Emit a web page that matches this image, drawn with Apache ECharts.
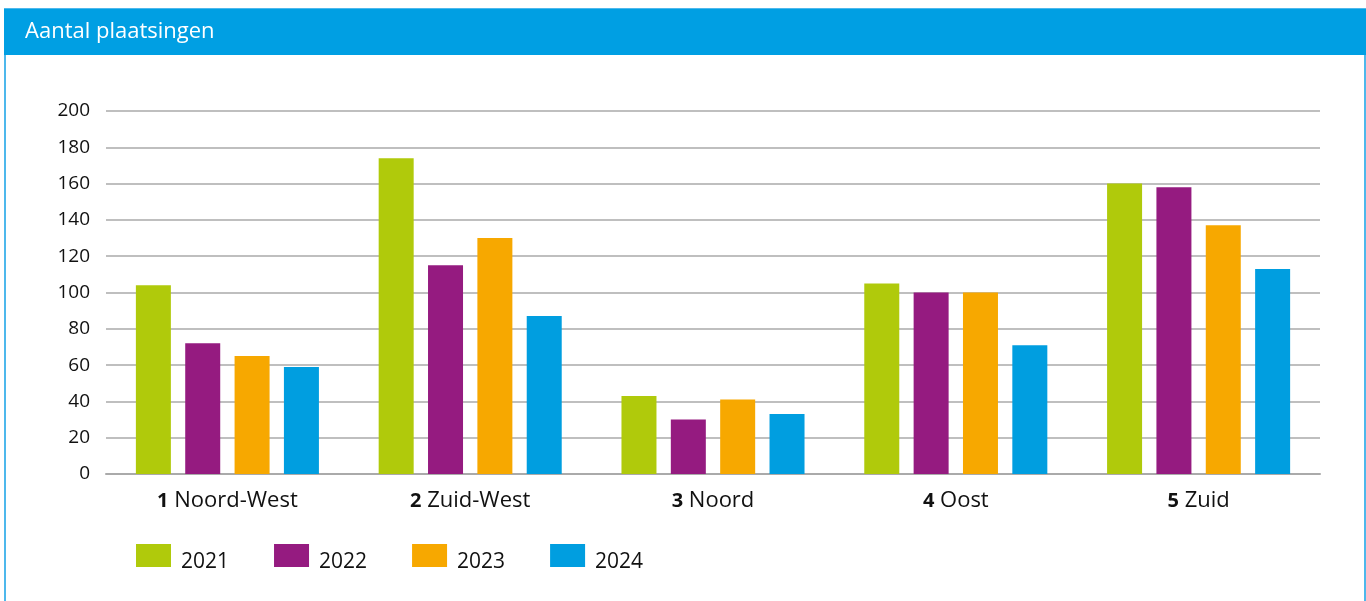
<!DOCTYPE html>
<html>
    <head>
        <meta charset="utf-8" />
        <script src="https://cdn.jsdelivr.net/npm/echarts@6/dist/echarts.min.js"></script>
        <style>
            html,
            body {
                margin: 0;
                padding: 0;
                background: #fff;
            }
            #main {
                width: 1366px;
                height: 601px;
            }
        </style>
    </head>
    <body>
        <div id="main"></div>
        <script>
            var regionNumbers = ["1", "2", "3", "4", "5"];
            var regions = ["Noord-West", "Zuid-West", "Noord", "Oost", "Zuid"];
            var years = ["2021", "2022", "2023", "2024"];
            var values2021 = [104, 174, 43, 105, 160];
            var values2022 = [72, 115, 30, 100, 158];
            var values2023 = [65, 130, 41, 100, 137];
            var values2024 = [59, 87, 33, 71, 113];
            var yearColors = ["#b0ca0b", "#951b80", "#f7a800", "#009ee0"];

            var chart = echarts.init(document.getElementById("main"));
            var allValues = [values2021, values2022, values2023, values2024];
            var font = "'Open Sans', sans-serif";

            var series = [];
            for (var i = 0; i < years.length; i++) {
                series.push({
                    name: years[i],
                    type: "bar",
                    data: allValues[i],
                    barWidth: 35,
                    barGap: "41%",
                    itemStyle: { color: yearColors[i] },
                });
            }

            chart.setOption({
                animation: false,
                textStyle: { fontFamily: font },
                graphic: [
                    {
                        type: "rect",
                        shape: { x: 5, y: 9, width: 1360, height: 600 },
                        style: { fill: "none", stroke: "#4db8ec", lineWidth: 2 },
                    },
                    {
                        type: "rect",
                        shape: { x: 4, y: 9, width: 1362, height: 46 },
                        style: { fill: "#009fe3" },
                    },
                    {
                        type: "text",
                        left: 25,
                        top: 21,
                        style: {
                            text: "Aantal plaatsingen",
                            fill: "#fff",
                            font: "22px " + font,
                        },
                    },
                ],
                grid: {
                    left: 106,
                    right: 46,
                    top: 111,
                    bottom: 127,
                },
                legend: {
                    data: years,
                    left: 131,
                    top: 539,
                    icon: "rect",
                    itemWidth: 35,
                    itemHeight: 23,
                    itemGap: 45,
                    formatter: "{t|{name}}",
                    textStyle: {
                        fontSize: 21,
                        color: "#111",
                        rich: {
                            t: {
                                fontSize: 21,
                                color: "#111",
                                padding: [14, 0, 0, 5],
                            },
                        },
                    },
                },
                xAxis: {
                    type: "category",
                    data: regions,
                    axisTick: { show: false },
                    axisLine: { lineStyle: { color: "#aaa", width: 2 } },
                    axisLabel: {
                        margin: 16,
                        formatter: function (value, idx) {
                            return "{b|" + regionNumbers[idx] + "} " + value;
                        },
                        color: "#111",
                        fontSize: 22,
                        rich: {
                            b: { fontWeight: "bold", fontSize: 20, color: "#111" },
                        },
                    },
                },
                yAxis: {
                    type: "value",
                    min: 0,
                    max: 200,
                    interval: 20,
                    axisLine: { show: false },
                    axisTick: { show: false },
                    splitLine: { lineStyle: { color: "#aaa", width: 1.5 } },
                    axisLabel: {
                        margin: 16,
                        color: "#111",
                        fontSize: 19,
                    },
                },
                series: series,
            });
        </script>
    </body>
</html>
